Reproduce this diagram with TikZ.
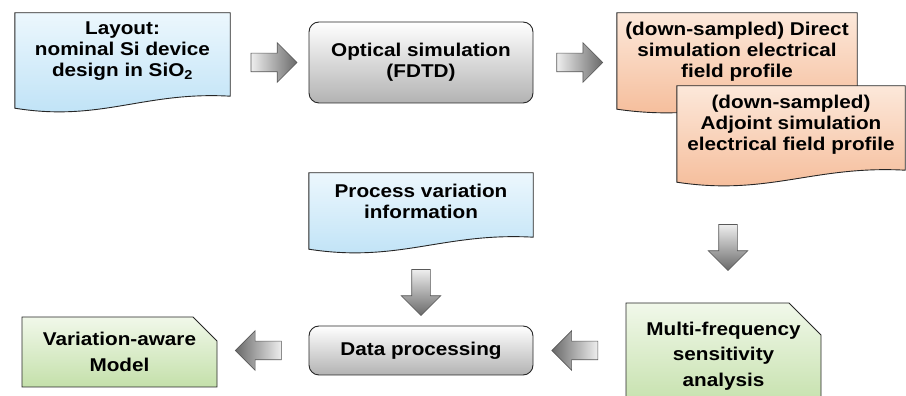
\documentclass[tikz,border=0pt]{standalone}
\usepackage{fontspec}
\setmainfont{Liberation Sans}[FakeStretch=1.12]
\usepackage{xcolor}
\usetikzlibrary{shapes.arrows,shapes.misc,positioning,calc,backgrounds}

\definecolor{bluetop}{RGB}{236,247,253}
\definecolor{bluebot}{RGB}{188,225,246}
\definecolor{orangetop}{RGB}{252,232,218}
\definecolor{orangebot}{RGB}{245,186,150}
\definecolor{greentop}{RGB}{241,248,234}
\definecolor{greenbot}{RGB}{196,224,170}
\definecolor{arrowlight}{RGB}{238,238,238}
\definecolor{arrowdark}{RGB}{105,105,105}

% outline of a document box with a wavy bottom edge
\newcommand\docpath[1]{(#1.north west) -- (#1.north east) -- ([yshift=-7pt]#1.south east)
  .. controls ($(#1.south west)!0.6!(#1.south east)+(0,-2pt)$) and ($(#1.south west)!0.4!(#1.south east)+(0,-33pt)$)
  .. ([yshift=-19pt]#1.south west) -- cycle}

\begin{document}
\begin{tikzpicture}[x=1pt,y=1pt,
  font=\bfseries\fontsize{18.5}{21}\selectfont,
  doctext/.style={inner sep=0pt,align=center},
  docline/.style={draw=black!85,line width=0.9pt},
  roundbox/.style={draw=black!85,line width=0.9pt,rounded corners=10pt,align=center,inner sep=0pt,
    top color=white,middle color=white!93!black,bottom color=black!30},
  greenbox/.style={chamfered rectangle,chamfered rectangle corners=north east,draw=black!85,line width=0.9pt,
    align=center,inner sep=0pt,top color=greentop,bottom color=greenbot,
    font=\bfseries\fontsize{18.5}{25.5}\selectfont},
  blkarrow/.style={single arrow,draw=black!65,line width=0.6pt,minimum height=46pt,inner sep=9pt,
    text height=0pt,text depth=0pt,single arrow head extend=10.5pt,single arrow head indent=0pt},
  rarrow/.style={blkarrow,left color=arrowlight,right color=arrowdark},
  larrow/.style={blkarrow,shape border rotate=180,left color=arrowdark,right color=arrowlight},
  darrow/.style={blkarrow,shape border rotate=270,top color=arrowlight,bottom color=arrowdark}]
\useasboundingbox (0,0) rectangle (906,396);
\clip (0,0) rectangle (906,396);

% top row
\node[doctext,minimum width=215pt,minimum height=76pt] (layout) at (122.5,345) {Layout:\\nominal Si device\\design in SiO\textsubscript{2}};
\node[roundbox,minimum width=224pt,minimum height=81pt] (optical) at (421,333.5) {Optical simulation\\(FDTD)};
\node[doctext,minimum width=240pt,minimum height=77pt] (direct) at (737,344.5) {(down-sampled) Direct\\simulation electrical\\field profile};
\node[doctext,minimum width=228pt,minimum height=77pt] (adjoint) at (791,271.5) {(down-sampled)\\Adjoint simulation\\electrical field profile};

% middle and bottom row
\node[doctext,minimum width=224pt,minimum height=57pt] (procvar) at (421,194.5) {Process variation\\information};
\node[roundbox,minimum width=224pt,minimum height=49pt] (dataproc) at (421,45.5) {Data processing};
\node[greenbox,chamfered rectangle xsep=16pt,chamfered rectangle ysep=16pt,minimum width=195pt,minimum height=106pt] (multifreq) at (723.5,40) {Multi-frequency\\sensitivity\\analysis};
\node[greenbox,chamfered rectangle xsep=12pt,chamfered rectangle ysep=12pt,minimum width=195pt,minimum height=70pt] (varmodel) at (119.5,44) {Variation-aware\\Model};

% block arrows
\node[rarrow] (a1) at ($(layout.east |- optical.west)!0.5!(optical.west)$) {};
\node[rarrow] (a2) at ($(optical.east)!0.5!(optical.east -| direct.west)$) {};
\node[darrow] (a3) at ($(adjoint.south -| multifreq.north)!0.5!(multifreq.north)+(4.5pt,-10pt)$) {};
\node[darrow] (a4) at ($(procvar.south)!0.5!(dataproc.north)+(0,-10pt)$) {};
\node[larrow] (a5) at ($(multifreq.west |- dataproc.east)!0.5!(dataproc.east)$) {};
\node[larrow] (a6) at ($(dataproc.west)!0.5!(dataproc.west -| varmodel.east)$) {};

\begin{scope}[on background layer]
\path[docline,top color=bluetop,bottom color=bluebot] \docpath{layout};
\path[docline,top color=bluetop,bottom color=bluebot] \docpath{procvar};
\path[docline,top color=orangetop,bottom color=orangebot] \docpath{direct};
\path[docline,top color=orangetop,bottom color=orangebot] \docpath{adjoint};
\end{scope}
\end{tikzpicture}
\end{document}
